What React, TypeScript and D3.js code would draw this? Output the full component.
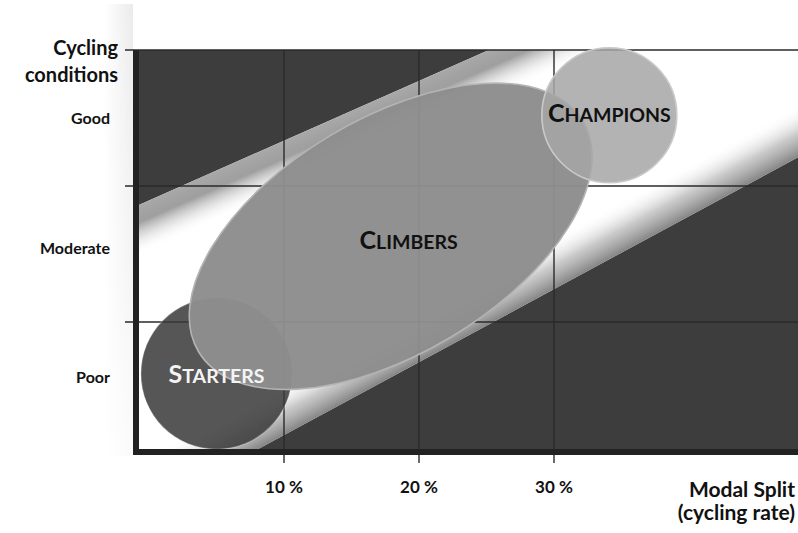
import * as d3 from 'd3';

// x: modal split (cycling rate, %), y: cycling conditions level (0 = bottom, 3 = top)
const splitTicks = [10, 20, 30];
const levelBounds = [1, 2, 3];
const conditionLabels = ['Poor', 'Moderate', 'Good'];

const groupNames = ['Starters', 'Climbers', 'Champions'];
const groupSplit = [5.0, 17.9, 34.1];
const groupLevel = [0.62, 1.63, 2.52];
const groupMajor = [5.6, 16.6, 5.0];
const groupMinor = [5.6, 8.7, 5.0];
const groupTilt = [0, 31, 0];

// the diagonal "corridor" band
const corridorSplit = [-1, 60];
const corridorUpper = [1.85, 4.53];
const corridorLower = [-0.42, 2.85];

const W = 798;
const H = 533;
const plot = { left: 136, right: 798, top: 50, bottom: 452 };
const FONT = 'Lato, "Open Sans", "DejaVu Sans", sans-serif';
const DARK = '#3d3d3d';

const groupStyle: Record<string, { fill: string; opacity: number; stroke: string; text: string; dx: number; dy: number }> = {
  Starters: { fill: '#3a3a3a', opacity: 0.86, stroke: 'rgba(255,255,255,0.22)', text: '#f4f4f4', dx: 0, dy: 9 },
  Climbers: { fill: '#8d8d8d', opacity: 0.97, stroke: '#b4b4b4', text: '#111', dx: 18, dy: 13 },
  Champions: { fill: '#a6a6a6', opacity: 0.86, stroke: '#cacaca', text: '#111', dx: 0, dy: 7 },
};

export default function App() {
  const x = d3.scaleLinear().domain([10, 30]).range([284, 554]);
  const y = d3.scaleLinear().domain([1, 2]).range([322, 186]);
  const yLabel = d3.scalePoint<string>().domain(conditionLabels).range([377, 118]);

  const upperPts = corridorSplit.map((s, i) => [x(s), y(corridorUpper[i])] as [number, number]);
  const lowerPts = corridorSplit.map((s, i) => [x(s), y(corridorLower[i])] as [number, number]);
  const band = d3.line()([...upperPts, ...lowerPts.slice().reverse()]) + 'Z';

  // gradient vectors perpendicular to each corridor edge, pointing into the band
  const perp = (a: [number, number], b: [number, number], sign: number, len: number) => {
    const dx = b[0] - a[0];
    const dy = b[1] - a[1];
    const l = Math.hypot(dx, dy);
    return { x1: a[0], y1: a[1], x2: a[0] + (sign * -dy / l) * len, y2: a[1] + (sign * dx / l) * len };
  };
  const gu = perp(upperPts[0], upperPts[1], 1, 46);
  const gl = perp(lowerPts[0], lowerPts[1], -1, 46);

  return (
    <svg width={W} height={H} style={{ position: 'absolute', left: 0, top: 0, background: '#fff' }} fontFamily={FONT}>
      <defs>
        <clipPath id="plotClip">
          <rect x={plot.left} y={plot.top} width={plot.right - plot.left} height={plot.bottom - plot.top} />
        </clipPath>
        <linearGradient id="upperShade" gradientUnits="userSpaceOnUse" {...gu}>
          <stop offset="0" stopColor="#a9a9a9" stopOpacity={1} />
          <stop offset="0.35" stopColor="#8e8e8e" stopOpacity={0.85} />
          <stop offset="1" stopColor="#ffffff" stopOpacity={0} />
        </linearGradient>
        <linearGradient id="lowerShade" gradientUnits="userSpaceOnUse" {...gl}>
          <stop offset="0" stopColor="#858585" stopOpacity={1} />
          <stop offset="0.45" stopColor="#b8b8b8" stopOpacity={0.75} />
          <stop offset="1" stopColor="#ffffff" stopOpacity={0} />
        </linearGradient>
        <linearGradient id="sideShadow" x1="0" y1="0" x2="1" y2="0">
          <stop offset="0" stopColor="#000" stopOpacity={0} />
          <stop offset="1" stopColor="#000" stopOpacity={0.08} />
        </linearGradient>
        <linearGradient id="sideFade" x1="0" y1="0" x2="0" y2="1">
          <stop offset="0" stopColor="#fff" />
          <stop offset="1" stopColor="#333" />
        </linearGradient>
        <mask id="sideMask">
          <rect x={90} y={0} width={50} height={460} fill="url(#sideFade)" />
        </mask>
      </defs>

      {/* soft shadow left of the y axis */}
      <rect x={104} y={4} width={29} height={452} fill="url(#sideShadow)" mask="url(#sideMask)" />

      <g clipPath="url(#plotClip)">
        <rect x={plot.left} y={plot.top} width={plot.right - plot.left} height={plot.bottom - plot.top} fill={DARK} />
        <path d={band} fill="#fff" />
        <path d={band} fill="url(#upperShade)" />
        <path d={band} fill="url(#lowerShade)" />
      </g>

      {/* grid */}
      {levelBounds.map(l => (
        <line key={'h' + l} x1={125} x2={plot.right} y1={y(l)} y2={y(l)} stroke="#2a2a2a" strokeWidth={1.4} />
      ))}
      {splitTicks.map(s => (
        <line key={'v' + s} x1={x(s)} x2={x(s)} y1={plot.top} y2={plot.bottom + 11} stroke="#2a2a2a" strokeWidth={1.4} />
      ))}

      {/* groups */}
      {groupNames.map((name, i) => {
        const st = groupStyle[name];
        const cx = x(groupSplit[i]);
        const cy = y(groupLevel[i]);
        const rx = x(groupSplit[i] + groupMajor[i]) - cx;
        const ry = x(groupSplit[i] + groupMinor[i]) - cx;
        return (
          <ellipse
            key={name}
            cx={cx}
            cy={cy}
            rx={rx}
            ry={ry}
            transform={`rotate(${-groupTilt[i]},${cx},${cy})`}
            fill={st.fill}
            fillOpacity={st.opacity}
            stroke={st.stroke}
            strokeWidth={1.6}
          />
        );
      })}
      {groupNames.map((name, i) => {
        const st = groupStyle[name];
        const cx = x(groupSplit[i]);
        const cy = y(groupLevel[i]);
        return (
          <text key={'t' + name} x={cx + st.dx} y={cy + st.dy} textAnchor="middle" fill={st.text} fontWeight="bold">
            <tspan fontSize={25}>{name[0].toUpperCase()}</tspan>
            <tspan fontSize={19.5}>{name.slice(1).toUpperCase()}</tspan>
          </text>
        );
      })}

      {/* axes */}
      <line x1={plot.left} x2={plot.left} y1={plot.top} y2={plot.bottom + 3} stroke="#222" strokeWidth={6} />
      <line x1={plot.left - 3} x2={plot.right} y1={plot.bottom} y2={plot.bottom} stroke="#222" strokeWidth={6} />

      {splitTicks.map(s => (
        <text key={'xl' + s} x={x(s)} y={493} textAnchor="middle" fontSize={17} fontWeight="bold" fill="#111">
          {`${s} %`}
        </text>
      ))}
      {conditionLabels.map(c => (
        <text key={'yl' + c} x={110} y={(yLabel(c) ?? 0) + 6} textAnchor="end" fontSize={16} fontWeight="bold" fill="#111">
          {c}
        </text>
      ))}

      <text x={118} textAnchor="end" fontSize={20} fontWeight="bold" fill="#111">
        <tspan x={118} y={55}>Cycling</tspan>
        <tspan x={118} y={82}>conditions</tspan>
      </text>
      <text textAnchor="end" fontSize={21} fontWeight="bold" fill="#111">
        <tspan x={795} y={497}>Modal Split</tspan>
        <tspan x={795} y={520}>(cycling rate)</tspan>
      </text>
    </svg>
  );
}
